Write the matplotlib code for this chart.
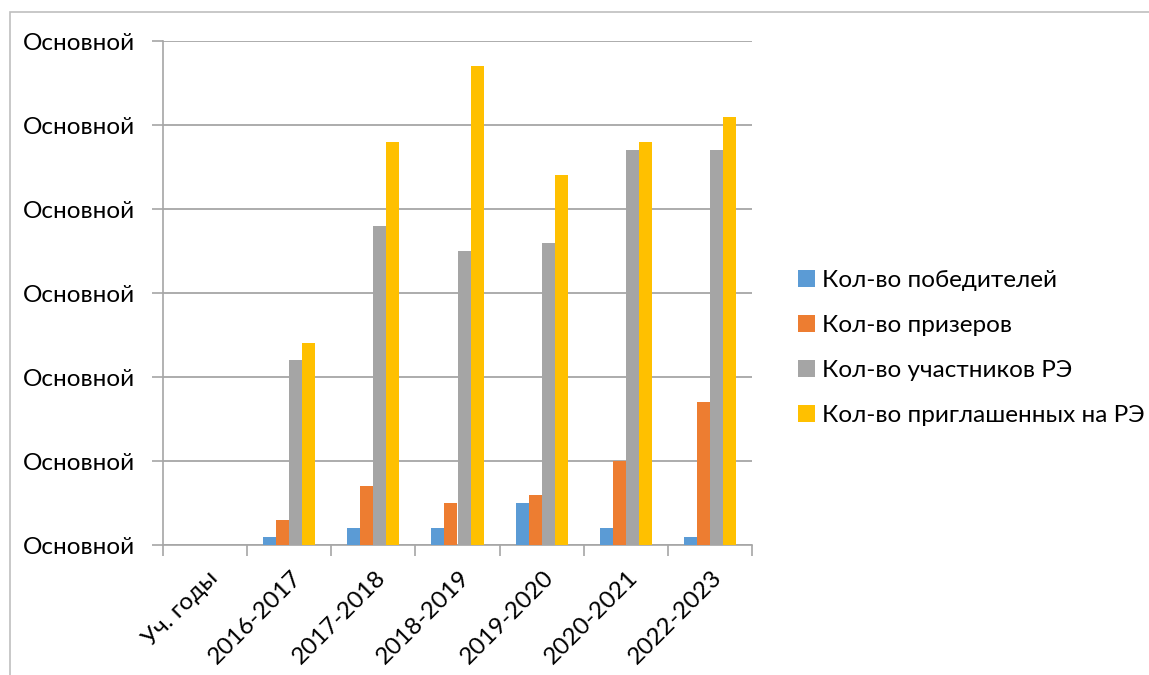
import matplotlib.pyplot as plt
import numpy as np
from matplotlib.patches import Rectangle

plt.rcParams['font.family'] = ['Lato', 'DejaVu Sans']

categories = ['Уч. годы', '2016-2017', '2017-2018', '2018-2019',
              '2019-2020', '2020-2021', '2022-2023']
series_names = ['Кол-во победителей', 'Кол-во призеров',
                'Кол-во участников РЭ', 'Кол-во приглашенных на РЭ']
winners = [0, 1, 2, 2, 5, 2, 1]
prizers = [0, 3, 7, 5, 6, 10, 17]
participants = [0, 22, 38, 35, 36, 47, 47]
invited = [0, 24, 48, 57, 44, 48, 51]
y_ticks = [0, 10, 20, 30, 40, 50, 60]
y_tick_label = 'Основной'

colors = ['#5b9bd5', '#ed7d31', '#a5a5a5', '#ffc000']
fs = 17.5

fig = plt.figure(figsize=(11.49, 6.75), dpi=100)
ax = fig.add_axes([163 / 1149, 1 - 545 / 675, (752 - 163) / 1149, (545 - 41) / 675])

# рамка области диаграммы
fig.patches.append(Rectangle((10 / 1149, -0.1), 1.2, 1 - 12 / 675 + 0.1,
                             transform=fig.transFigure, fill=False,
                             edgecolor='#bfbfbf', linewidth=1.2))

x = np.arange(len(categories))
bw = 0.155
data = [winners, prizers, participants, invited]
for i, (vals, name, c) in enumerate(zip(data, series_names, colors)):
    ax.bar(x + (i - 1.5) * bw, vals, width=bw, color=c, label=name, zorder=3)

ax.set_xlim(-0.5, len(categories) - 0.5)
ax.set_ylim(0, 60)
ax.set_yticks(y_ticks)
ax.set_yticklabels([y_tick_label] * len(y_ticks), fontsize=fs)
ax.yaxis.grid(True, color='#a6a6a6', linewidth=1.3, zorder=0)
ax.tick_params(axis='y', length=8, color='#a6a6a6', width=1.2, pad=12)

ax.set_xticks(np.arange(len(categories) + 1) - 0.5)
ax.set_xticklabels([])
ax.tick_params(axis='x', length=8, color='#a6a6a6', width=1.2)
for xi, lab in zip(x, categories):
    ax.text(xi + 0.02, -2.6, lab, rotation=45, ha='right', va='top',
            rotation_mode='anchor', fontsize=fs)

for s in ['top', 'right']:
    ax.spines[s].set_visible(False)
for s in ['left', 'bottom']:
    ax.spines[s].set_color('#a6a6a6')
    ax.spines[s].set_linewidth(1.2)

leg = fig.legend(loc='center left', bbox_to_anchor=(776 / 1149, 1 - 348 / 675),
                 frameon=False, fontsize=fs, handlelength=0.7, handleheight=0.7,
                 handletextpad=0.3, labelspacing=1.0)

fig.savefig('out.png', dpi=100)
